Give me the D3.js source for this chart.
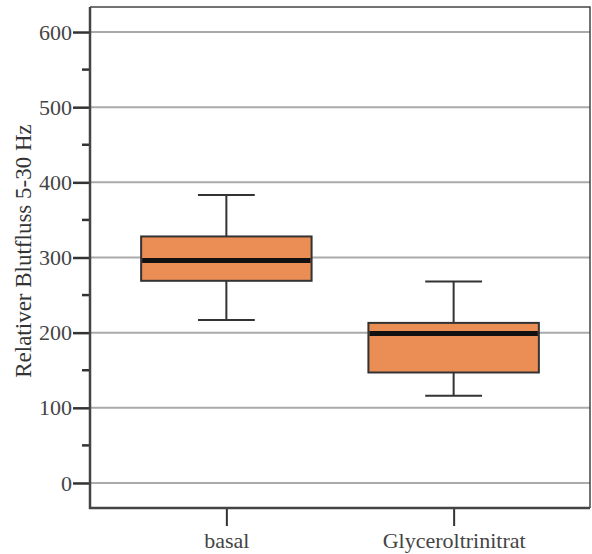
<!DOCTYPE html>
<html>
<head>
<meta charset="utf-8">
<script src="https://cdn.jsdelivr.net/npm/d3@7"></script>
<style>
  body { margin: 0; background: #fff; }
</style>
</head>
<body>
<svg id="chart" width="592" height="554"></svg>
<script>
// box plot data
const categories = ['basal', 'Glyceroltrinitrat'];
const whiskerLow = [217, 116];
const q1 = [269, 147];
const median = [296, 199];
const q3 = [328, 213];
const whiskerHigh = [383, 268];
const majorTicks = [0, 100, 200, 300, 400, 500, 600];
const minorTicks = [50, 150, 250, 350, 450, 550];

const serif = '"Liberation Serif", "Times New Roman", serif';
const svg = d3.select('#chart');
const plotL = 90, plotR = 590, plotT = 7, plotB = 508;

const y = d3.scaleLinear().domain([-33.3, 633.3]).range([plotB, plotT]);
const x = d3.scalePoint().domain(categories).range([plotL, plotR]).padding(0.6);
const boxW = x.step() * 0.75;
const capW = boxW / 3;

// grid lines
svg.append('g')
  .selectAll('line')
  .data(majorTicks)
  .join('line')
  .attr('x1', plotL).attr('x2', plotR)
  .attr('y1', d => y(d)).attr('y2', d => y(d))
  .attr('stroke', '#aaa').attr('stroke-width', 2);

// frame top/right
svg.append('path')
  .attr('d', `M${plotL},${plotT}H${plotR}V${plotB}`)
  .attr('fill', 'none').attr('stroke', '#444').attr('stroke-width', 1.5);

// boxes
const boxes = svg.append('g').selectAll('g')
  .data(categories)
  .join('g');

boxes.append('line')
  .attr('x1', d => x(d)).attr('x2', d => x(d))
  .attr('y1', (d, i) => y(whiskerHigh[i])).attr('y2', (d, i) => y(whiskerLow[i]))
  .attr('stroke', '#333').attr('stroke-width', 2);

boxes.selectAll('.cap')
  .data((d, i) => [{ c: d, v: whiskerHigh[i] }, { c: d, v: whiskerLow[i] }])
  .join('line')
  .attr('class', 'cap')
  .attr('x1', d => x(d.c) - capW / 2).attr('x2', d => x(d.c) + capW / 2)
  .attr('y1', d => y(d.v)).attr('y2', d => y(d.v))
  .attr('stroke', '#333').attr('stroke-width', 2);

boxes.append('rect')
  .attr('x', d => x(d) - boxW / 2)
  .attr('width', boxW)
  .attr('y', (d, i) => y(q3[i]))
  .attr('height', (d, i) => y(q1[i]) - y(q3[i]))
  .attr('fill', '#ea8e55').attr('stroke', '#333').attr('stroke-width', 2);

boxes.append('line')
  .attr('x1', d => x(d) - boxW / 2 + 1).attr('x2', d => x(d) + boxW / 2 - 1)
  .attr('y1', (d, i) => y(median[i])).attr('y2', (d, i) => y(median[i]))
  .attr('stroke', '#111').attr('stroke-width', 5);

// y axis
const yAxis = svg.append('g')
  .attr('transform', `translate(${plotL},0)`)
  .call(d3.axisLeft(y).tickValues(majorTicks).tickSize(17).tickPadding(1).tickSizeOuter(0));
yAxis.select('.domain').remove();
yAxis.selectAll('.tick line').attr('stroke', '#333').attr('stroke-width', 2.5);
yAxis.selectAll('.tick text')
  .style('font-family', serif).style('font-size', '22px').attr('fill', '#444');

svg.append('g')
  .selectAll('line')
  .data(minorTicks)
  .join('line')
  .attr('x1', plotL - 8).attr('x2', plotL)
  .attr('y1', d => y(d)).attr('y2', d => y(d))
  .attr('stroke', '#333').attr('stroke-width', 2.5);

svg.append('line')
  .attr('x1', plotL).attr('x2', plotL)
  .attr('y1', plotT).attr('y2', plotB + 1)
  .attr('stroke', '#444').attr('stroke-width', 2.5);

// x axis
const xAxis = svg.append('g')
  .attr('transform', `translate(0,${plotB})`)
  .call(d3.axisBottom(x).tickSize(18).tickPadding(6).tickSizeOuter(0));
xAxis.select('.domain').remove();
xAxis.selectAll('.tick line').attr('stroke', '#333').attr('stroke-width', 2);
xAxis.selectAll('.tick text')
  .style('font-family', serif).style('font-size', '22px').attr('fill', '#444');

svg.append('line')
  .attr('x1', plotL - 1).attr('x2', plotR)
  .attr('y1', plotB).attr('y2', plotB)
  .attr('stroke', '#444').attr('stroke-width', 2.5);

// y label
svg.append('text')
  .attr('transform', 'translate(31,251) rotate(-90)')
  .attr('text-anchor', 'middle')
  .style('font-family', serif).style('font-size', '23px')
  .attr('fill', '#333')
  .text('Relativer Blutfluss 5-30 Hz');
</script>
</body>
</html>
